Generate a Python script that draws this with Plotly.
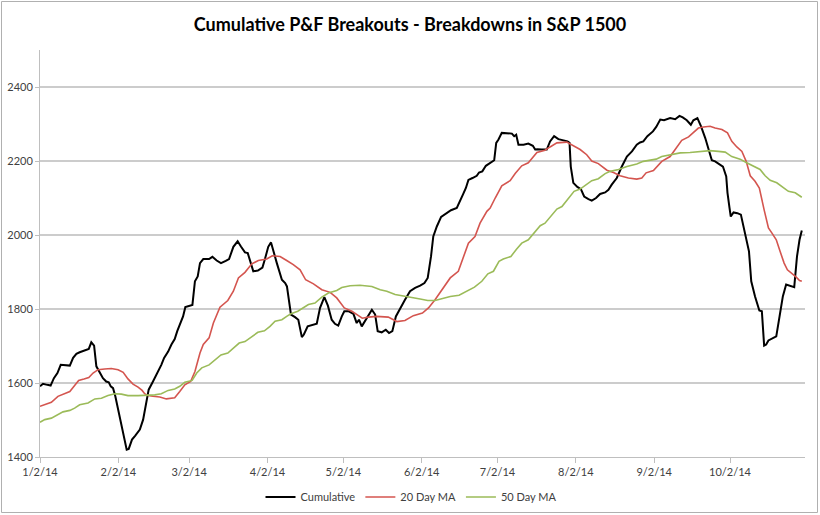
import pandas as pd
import plotly.graph_objects as go

START = pd.Timestamp("2014-01-02")

# Day offsets from 1/2/14 and values
cum_day = [0, 1.2, 2.9, 4.2, 5.5, 6.9, 8.2, 9.8, 11.8, 13.1, 14.4, 15.7, 17.7, 19.3, 20.3, 21.4,
           22.3, 23.6, 24.9, 26.2, 27.2, 28.0, 28.9, 29.8, 31.5, 33.2, 34.3, 35.1, 36.4, 37.7,
           39.5, 40.8, 41.7, 43.0, 44.7, 46.4, 48.0, 49.1, 50.7, 52.0, 53.3, 54.3, 55.7, 56.6,
           57.5, 58.8, 60.3, 61.3, 62.4, 63.3, 64.6, 66.9, 68.2, 69.9, 71.6, 73.5, 74.8, 76.5,
           78.2, 79.5, 81.1, 82.2, 83.4, 84.4, 86.2, 88.0, 89.0, 90.3, 91.4, 92.3, 93.7, 95.7,
           97.0, 97.7, 98.5, 99.3, 100.9, 102.2, 103.6, 104.4, 105.9, 108.2, 109.5, 110.8, 112.5,
           113.9, 115.4, 116.7, 118.0, 119.4, 120.4, 122.0, 124.0, 125.3, 126.2, 127.3, 129.3,
           131.3, 132.6, 133.6, 135.2, 136.8, 138.1, 139.4, 140.8, 142.5, 144.4, 146.4, 148.4,
           150.4, 152.1, 153.4, 154.7, 155.6, 157.0, 158.7, 160.6, 162.6, 164.9, 166.2, 167.5,
           168.5, 169.5, 171.1, 172.8, 173.7, 175.0, 176.4, 178.1, 179.7, 180.5, 181.4, 182.7,
           184.7, 186.7, 187.6, 188.4, 189.3, 191.3, 193.2, 195.0, 195.9, 196.8, 198.5, 200.5,
           201.8, 203.4, 205.1, 207.1, 208.7, 209.5, 210.0, 211.0, 212.6, 214.0, 215.3, 217.0,
           218.3, 220.0, 221.6, 223.6, 224.9, 226.2, 228.2, 230.2, 232.2, 234.2, 236.1, 237.4,
           238.7, 240.3, 242.5, 243.8, 245.4, 246.9, 249.3, 251.3, 253.0, 254.3, 255.9, 257.5,
           258.5, 260.1, 261.5, 263.2, 264.5, 265.8, 267.1, 268.4, 270.2, 271.5, 272.0, 272.8,
           273.3, 274.4, 275.9, 277.3, 278.6, 279.7, 280.5, 281.4, 282.9, 284.6, 285.6, 286.5,
           287.3, 288.2, 289.6, 291.3, 292.6, 293.9, 295.2, 296.8, 298.4, 299.5, 300.5, 301.4]
cum_val = [1591, 1598, 1595, 1593, 1613, 1627, 1649, 1649, 1647, 1668, 1679, 1683, 1687, 1692, 1710, 1701,
           1645, 1627, 1613, 1604, 1602, 1591, 1586, 1564, 1510, 1456, 1420, 1422, 1447, 1458,
           1474, 1501, 1537, 1582, 1604, 1627, 1649, 1668, 1685, 1704, 1719, 1740, 1767, 1780,
           1805, 1807, 1811, 1875, 1888, 1924, 1935, 1935, 1941, 1931, 1924, 1930, 1935, 1968,
           1983, 1969, 1953, 1951, 1924, 1902, 1904, 1912, 1935, 1968, 1980, 1956, 1924, 1879,
           1870, 1861, 1825, 1785, 1778, 1771, 1724, 1731, 1753, 1758, 1760, 1803, 1832,
           1809, 1771, 1760, 1755, 1780, 1794, 1794, 1787, 1762, 1771, 1753, 1776,
           1798, 1785, 1740, 1737, 1744, 1735, 1740, 1780, 1803, 1825, 1848, 1857,
           1863, 1870, 1884, 1942, 1996, 2023, 2049, 2059, 2067, 2073, 2095, 2112,
           2127, 2149, 2154, 2160, 2169, 2172, 2187, 2195, 2202, 2249, 2258, 2276,
           2276, 2274, 2267, 2271, 2244, 2244, 2247, 2241, 2231, 2232, 2231, 2231,
           2253, 2267, 2259, 2256, 2253, 2249, 2185, 2141, 2130, 2124, 2104, 2097,
           2093, 2100, 2111, 2115, 2122, 2136, 2154, 2185, 2212, 2226, 2244, 2250,
           2253, 2267, 2280, 2292, 2312, 2310, 2316, 2313, 2322, 2318, 2310, 2298,
           2310, 2316, 2294, 2262, 2235, 2202, 2199, 2193, 2185, 2158, 2114, 2073,
           2050, 2061, 2059, 2055, 2014, 1978, 1956, 1875, 1834, 1796, 1794, 1701,
           1704, 1715, 1719, 1726, 1780, 1834, 1866, 1863, 1859, 1942, 1987, 2012]

ma20_day = [0, 2.5, 4.5, 7.1, 9.8, 11.8, 13.7, 15.3, 17.4, 19.3, 21.0, 23.0, 25.6, 28.2, 30.9, 32.9,
            34.8, 36.8, 38.8, 40.4, 41.4, 42.7, 44.7, 47.4, 50.0, 53.3, 55.3, 57.3, 59.6, 61.3,
            63.3, 64.6, 66.9, 68.6, 71.2, 74.3, 76.5, 78.5, 81.1, 83.8, 86.4, 89.7, 91.9, 95.0,
            97.6, 100.2, 102.9, 105.1, 108.2, 111.5, 114.8, 117.4, 120.4, 123.4, 126.0, 127.5,
            129.9, 133.2, 137.8, 141.2, 144.4, 147.7, 151.3, 153.7, 156.3, 159.0, 162.3, 165.5,
            167.5, 169.5, 172.1, 174.1, 176.8, 178.1, 180.1, 182.7, 186.0, 188.0, 190.6, 193.2,
            196.6, 199.8, 201.8, 204.5, 208.4, 210.4, 213.7, 216.3, 218.3, 220.9, 224.3, 226.9,
            229.5, 232.8, 236.1, 238.1, 239.8, 242.7, 246.0, 249.3, 252.0, 253.9, 256.6, 258.5,
            260.5, 262.5, 265.1, 267.1, 269.8, 272.0, 273.7, 275.7, 277.7, 279.4, 281.0, 282.9,
            284.6, 286.5, 288.2, 289.6, 291.3, 292.8, 294.4, 295.7, 297.5, 299.2, 300.5, 301.4]
ma20_val = [1537, 1544, 1548, 1564, 1571, 1577, 1593, 1607, 1611, 1615, 1627, 1636, 1638, 1639, 1636, 1629,
            1611, 1597, 1589, 1580, 1571, 1566, 1564, 1562, 1557, 1560, 1577, 1595, 1604, 1631,
            1681, 1704, 1722, 1762, 1805, 1823, 1848, 1884, 1899, 1922, 1931, 1935, 1944, 1942,
            1931, 1920, 1906, 1879, 1868, 1852, 1845, 1830, 1803, 1794, 1782, 1775,
            1778, 1780, 1778, 1766, 1769, 1782, 1789, 1803, 1825, 1852, 1884, 1902,
            1938, 1978, 1996, 2032, 2064, 2073, 2100, 2133, 2147, 2166, 2187, 2195,
            2223, 2229, 2238, 2249, 2251, 2244, 2231, 2217, 2200, 2193, 2175, 2169,
            2160, 2154, 2151, 2154, 2168, 2174, 2199, 2212, 2240, 2256, 2265, 2277,
            2289, 2292, 2294, 2289, 2285, 2276, 2253, 2238, 2226, 2199, 2160, 2145,
            2127, 2068, 2019, 2005, 1987, 1956, 1924, 1906, 1897, 1886, 1877, 1875]

ma50_day = [0, 1.9, 4.5, 7.1, 9.1, 11.8, 13.7, 15.7, 19.0, 21.7, 24.3, 26.9, 29.6, 32.2, 34.8, 38.8,
            42.7, 45.4, 48.0, 50.7, 53.3, 55.3, 57.3, 60.2, 62.0, 64.0, 66.9, 69.3, 71.6, 74.3,
            76.5, 78.8, 81.1, 83.8, 86.2, 88.8, 91.0, 93.0, 95.7, 97.6, 99.3, 102.0, 104.2, 106.2,
            108.8, 111.5, 114.1, 117.4, 119.4, 122.7, 126.6, 131.3, 134.6, 137.2, 140.5, 143.8,
            147.1, 150.4, 153.4, 156.3, 159.0, 162.3, 165.8, 168.9, 171.9, 174.8, 177.2, 179.4,
            181.6, 183.3, 186.3, 188.6, 190.6, 193.2, 195.9, 197.9, 199.8, 202.5, 204.5, 206.5,
            209.1, 211.3, 213.7, 216.3, 218.3, 220.9, 223.6, 225.6, 228.9, 232.2, 236.1, 238.7,
            241.4, 243.8, 246.0, 249.3, 253.3, 257.2, 261.2, 265.1, 268.4, 271.1, 273.7, 277.0,
            279.4, 282.9, 284.9, 286.9, 288.9, 291.5, 293.5, 296.1, 298.8, 301.4]
ma50_val = [1494, 1501, 1505, 1514, 1522, 1526, 1532, 1541, 1546, 1557, 1559, 1566, 1571, 1570, 1566, 1566,
            1566, 1568, 1571, 1580, 1584, 1591, 1602, 1607, 1627, 1641, 1649, 1663, 1676, 1681,
            1695, 1708, 1712, 1724, 1737, 1741, 1753, 1767, 1771, 1780, 1787, 1794, 1803, 1812,
            1816, 1832, 1843, 1850, 1858, 1863, 1864, 1861, 1852, 1848, 1839, 1834,
            1831, 1827, 1823, 1823, 1828, 1834, 1837, 1848, 1859, 1875, 1895, 1902,
            1929, 1935, 1942, 1962, 1978, 1987, 2010, 2025, 2032, 2055, 2070, 2077,
            2100, 2118, 2124, 2136, 2147, 2152, 2166, 2172, 2177, 2185, 2192, 2199,
            2202, 2205, 2212, 2217, 2222, 2223, 2226, 2228, 2226, 2224, 2212, 2205,
            2196, 2184, 2177, 2160, 2148, 2141, 2130, 2118, 2114, 2102]

x_tick_dates = ["2014-01-02", "2014-02-02", "2014-03-02", "2014-04-02", "2014-05-02",
                "2014-06-02", "2014-07-02", "2014-08-02", "2014-09-02", "2014-10-02"]
x_tick_text = ["1/2/14", "2/2/14", "3/2/14", "4/2/14", "5/2/14",
               "6/2/14", "7/2/14", "8/2/14", "9/2/14", "10/2/14"]
y_ticks = [1400, 1600, 1800, 2000, 2200, 2400]

def to_dates(days):
    return START + pd.to_timedelta(days, unit="D")

FONT = "Lato, 'Open Sans', sans-serif"

fig = go.Figure()
fig.add_trace(go.Scatter(x=to_dates(cum_day), y=cum_val, mode="lines", name="Cumulative",
                         line=dict(color="#000000", width=2)))
fig.add_trace(go.Scatter(x=to_dates(ma20_day), y=ma20_val, mode="lines", name="20 Day MA",
                         line=dict(color="#d4554f", width=1.6)))
fig.add_trace(go.Scatter(x=to_dates(ma50_day), y=ma50_val, mode="lines", name="50 Day MA",
                         line=dict(color="#9bbb59", width=1.6)))

W, H = 820, 515
L, R, T, B = 40, 15, 50, 58
pw, ph = W - L - R, H - T - B

fig.update_layout(
    width=W, height=H,
    margin=dict(l=L, r=R, t=T, b=B, autoexpand=False),
    paper_bgcolor="white", plot_bgcolor="white",
    font=dict(family=FONT, size=11, color="#404040"),
    title=dict(text="<b>Cumulative P&F Breakouts - Breakdowns in S&P 1500</b>",
               x=0.5, xref="container", xanchor="center",
               y=1 - 25 / H, yref="container", yanchor="middle",
               font=dict(family=FONT, size=18, color="#000000")),
    showlegend=True,
    legend=dict(orientation="h", x=(411 - L) / pw, xanchor="center",
                y=-(497 - (H - B)) / ph, yanchor="middle",
                font=dict(family=FONT, size=11, color="#404040"),
                bgcolor="rgba(0,0,0,0)"),
    xaxis=dict(type="date", range=["2014-01-02", "2014-10-31 16:00"],
               tickvals=x_tick_dates, ticktext=x_tick_text,
               showgrid=False, showline=True, linecolor="#bfbfbf", linewidth=1,
               ticks="outside", ticklen=5, tickcolor="#bfbfbf",
               tickfont=dict(family=FONT, size=11, color="#404040"), zeroline=False),
    yaxis=dict(range=[1400, 2500], tickvals=y_ticks,
               showgrid=True, gridcolor="#cccccc", gridwidth=1.5,
               showline=True, linecolor="#bfbfbf", linewidth=1,
               ticks="outside", ticklen=4, tickcolor="#bfbfbf",
               tickfont=dict(family=FONT, size=11, color="#404040"), zeroline=False),
)

# outer chart border
fig.add_shape(type="rect", xref="paper", yref="paper",
              x0=(1.5 - L) / pw, x1=(W - 2.5 - L) / pw,
              y0=-(H - 2.5 - (H - B)) / ph, y1=(H - B - 1.5) / ph,
              line=dict(color="#b0b0b0", width=1), fillcolor="rgba(0,0,0,0)", layer="below")

fig.write_html("out.html", config={"displayModeBar": False},
               post_script="document.body.style.margin='0';document.body.style.overflow='hidden';")
